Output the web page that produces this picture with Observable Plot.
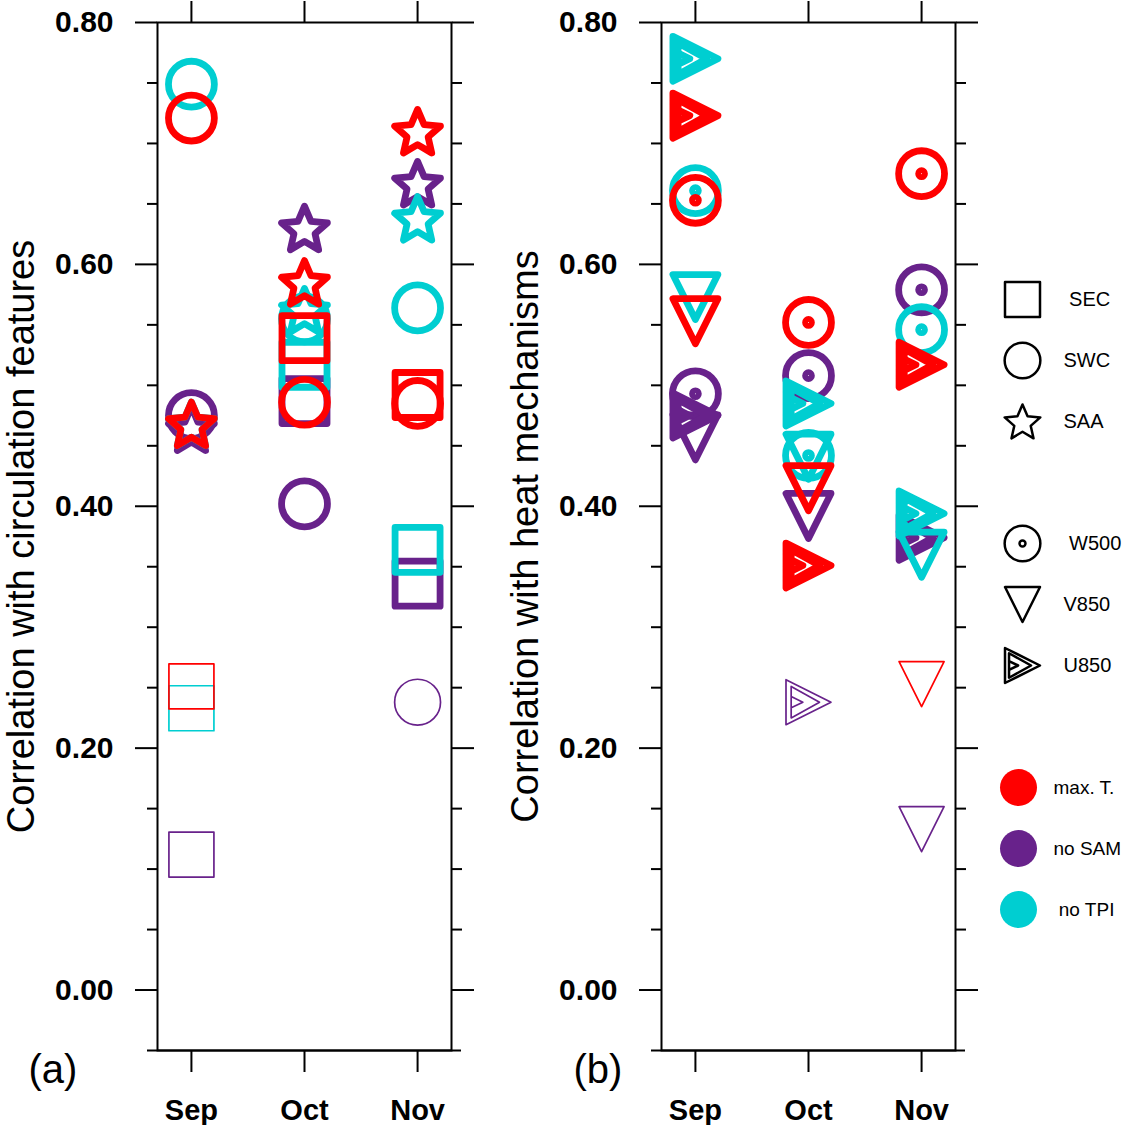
<!DOCTYPE html>
<html><head><meta charset="utf-8">
<script src="https://cdn.jsdelivr.net/npm/d3@7"></script>
<script src="https://cdn.jsdelivr.net/npm/@observablehq/plot@0.6"></script>
<style>
html,body{margin:0;padding:0;background:#fff;}
#fig{position:relative;width:1125px;height:1125px;overflow:hidden;}
.pnl{position:absolute;top:0;}
.pnl svg{background:transparent;}
</style></head><body><div id="fig"></div>
<script>
// ---------- categories ----------
const months = ["Sep", "Oct", "Nov"];
const groups = ["max. T.", "no SAM", "no TPI"];
const groupColors = ["#ff0000", "#68228b", "#00ced1"];
const drawOrder = ["no SAM", "no TPI", "max. T."];
const circShapes = ["SEC", "SWC", "SAA"];
const heatShapes = ["W500", "V850", "U850"];

// ---------- panel (a): correlation with circulation features (Sep, Oct, Nov) ----------
const aSEC_maxT  = [0.251, 0.539, 0.492];
const aSEC_noSAM = [0.112, 0.487, 0.336];
const aSEC_noTPI = [0.233, 0.517, 0.364];
const aSWC_maxT  = [0.721, 0.486, 0.485];
const aSWC_noSAM = [0.475, 0.402, 0.238];
const aSWC_noTPI = [0.749, 0.555, 0.564];
const aSAA_maxT  = [0.468, 0.585, 0.710];
const aSAA_noSAM = [0.464, 0.630, 0.667];
const aSAA_noTPI = [0.468, 0.562, 0.638];
// markers drawn thin (not significant): [shape, group, month]
const aThin = [["SEC", "max. T.", "Sep"], ["SEC", "no SAM", "Sep"], ["SEC", "no TPI", "Sep"], ["SWC", "no SAM", "Nov"]];

// ---------- panel (b): correlation with heat mechanisms (Sep, Oct, Nov) ----------
const bW500_maxT  = [0.653, 0.552, 0.675];
const bW500_noSAM = [0.493, 0.508, 0.579];
const bW500_noTPI = [0.661, 0.442, 0.546];
const bV850_maxT  = [0.553, 0.415, 0.253];
const bV850_noSAM = [0.457, 0.392, 0.133];
const bV850_noTPI = [0.573, 0.441, 0.360];
const bU850_maxT  = [0.723, 0.351, 0.517];
const bU850_noSAM = [0.475, 0.238, 0.374];
const bU850_noTPI = [0.770, 0.485, 0.394];
const bThin = [["U850", "no SAM", "Oct"], ["V850", "max. T.", "Nov"], ["V850", "no SAM", "Nov"]];

// ---------- ticks / texts ----------
const yMajor = [0, 0.2, 0.4, 0.6, 0.8];
const yMinor = [0.05, 0.1, 0.15, 0.25, 0.3, 0.35, 0.45, 0.5, 0.55, 0.65, 0.7, 0.75];
const monthTicks = [1, 2, 3];
const titleA = "Correlation with circulation features";
const titleB = "Correlation with heat mechanisms";
const legendKeys = ["SEC", "SWC", "SAA", "gap1", "W500", "V850", "U850", "gap2", "max. T.", "no SAM", "no TPI"];
const shapeLabelText = [" SEC", "SWC", "SAA", " W500", "V850", "U850"];
const groupLabelText = ["max. T.", "no SAM", " no TPI"];

// ---------- custom marker symbols ----------
const rOf = size => Math.sqrt(size / Math.PI);
const symSquare = {draw(c, s) { const r = rOf(s); c.moveTo(-r, -r); c.lineTo(r, -r); c.lineTo(r, r); c.lineTo(-r, r); c.closePath(); }};
const symCircle = {draw(c, s) { const r = rOf(s) * 1.02; c.moveTo(r, 0); c.arc(0, 0, r, 0, 2 * Math.PI); c.closePath(); }};
const symStar = {draw(c, s) {
  const R = rOf(s) * 1.07, ri = R * 0.46;
  for (let i = 0; i < 10; i++) {
    const a = -Math.PI / 2 + i * Math.PI / 5, rr = i % 2 ? ri : R;
    const x = rr * Math.cos(a), y = rr * Math.sin(a) + R * 0.09;
    i ? c.lineTo(x, y) : c.moveTo(x, y);
  }
  c.closePath();
}};
const makeDot = f => ({draw(c, s) { const r = rOf(s) * 1.02, d = rOf(s) * f; c.moveTo(r, 0); c.arc(0, 0, r, 0, 2 * Math.PI); c.closePath(); c.moveTo(d, 0); c.arc(0, 0, d, 0, 2 * Math.PI); c.closePath(); }});
const symDown = {draw(c, s) { const r = rOf(s); c.moveTo(-r, -r); c.lineTo(r, -r); c.lineTo(0, r); c.closePath(); }};
const symRight = {draw(c, s) {
  const r = rOf(s);
  c.moveTo(-r, -r); c.lineTo(r, 0); c.lineTo(-r, r); c.closePath();
  c.moveTo(-0.77 * r, -0.70 * r); c.lineTo(0.49 * r, 0); c.lineTo(-0.77 * r, 0.70 * r); c.closePath();
  c.moveTo(-0.77 * r, -0.25 * r); c.lineTo(-0.25 * r, 0); c.lineTo(-0.77 * r, 0.25 * r);
}};
const symbols = {SEC: symSquare, SWC: symCircle, SAA: symStar, W500: makeDot(0.13), V850: symDown, U850: symRight};
const legendSymbols = Object.assign({}, symbols, {W500: makeDot(0.17)});

const colorOf = g => groupColors[groups.indexOf(g)];
const FONT = "'Liberation Sans', Arial, Helvetica, sans-serif";

function buildRows(table, thin) {
  const rows = [];
  for (const shape in table) for (const g in table[shape]) table[shape][g].forEach((v, i) => {
    const isThin = thin.some(t => t[0] === shape && t[1] === g && t[2] === months[i]);
    rows.push({shape, group: g, m: i + 1, v, w: isThin ? 1.7 : 6.8});
  });
  return rows;
}

const rowsA = buildRows({
  SEC: {"max. T.": aSEC_maxT, "no SAM": aSEC_noSAM, "no TPI": aSEC_noTPI},
  SWC: {"max. T.": aSWC_maxT, "no SAM": aSWC_noSAM, "no TPI": aSWC_noTPI},
  SAA: {"max. T.": aSAA_maxT, "no SAM": aSAA_noSAM, "no TPI": aSAA_noTPI}
}, aThin);
const rowsB = buildRows({
  W500: {"max. T.": bW500_maxT, "no SAM": bW500_noSAM, "no TPI": bW500_noTPI},
  V850: {"max. T.": bV850_maxT, "no SAM": bV850_noSAM, "no TPI": bV850_noTPI},
  U850: {"max. T.": bU850_maxT, "no SAM": bU850_noSAM, "no TPI": bU850_noTPI}
}, bThin);

function panel(rows, shapes, title, tag, tagDx, width) {
  const marks = [
    Plot.frame({strokeWidth: 2}),
    Plot.ruleY([-0.05], {strokeWidth: 2, insetLeft: -10, insetRight: -10}),
    Plot.axisY(yMajor, {anchor: "left", tickSize: 22, tickPadding: 22, tickFormat: d3.format(".2f"), fontSize: 30, fontWeight: "bold", strokeWidth: 2, label: null}),
    Plot.axisY(yMinor, {anchor: "left", tickSize: 10, tickFormat: () => "", strokeWidth: 2, label: null}),
    Plot.axisY(yMajor, {anchor: "right", tickSize: 22, tickFormat: () => "", strokeWidth: 2, label: null}),
    Plot.axisY(yMinor, {anchor: "right", tickSize: 10, tickFormat: () => "", strokeWidth: 2, label: null}),
    Plot.axisX(monthTicks, {anchor: "bottom", tickSize: 22, tickPadding: 27, tickFormat: d => months[d - 1], fontSize: 29, fontWeight: "bold", strokeWidth: 2, label: null}),
    Plot.axisX(monthTicks, {anchor: "top", tickSize: 22, tickFormat: () => "", strokeWidth: 2, label: null})
  ];
  for (const g of drawOrder) for (const s of shapes) {
    marks.push(Plot.dot(rows.filter(d => d.group === g && d.shape === s), {
      x: "m", y: "v", r: 22.5, symbol: symbols[s], stroke: colorOf(g), fill: "none",
      strokeWidth: "w", strokeLinejoin: "round", strokeLinecap: "round"
    }));
  }
  marks.push(Plot.text([title], {text: d => d, frameAnchor: "left", textAnchor: "middle", rotate: -90, dx: -136, fontSize: 38}));
  marks.push(Plot.text([tag], {text: d => d, frameAnchor: "bottom-left", textAnchor: "start", lineAnchor: "bottom", dx: tagDx, dy: 32, fontSize: 40}));
  return Plot.plot({
    width, height: 1125,
    marginLeft: 157, marginRight: width - 157 - 294, marginTop: 22, marginBottom: 75,
    x: {domain: [0.7, 3.3], axis: null},
    y: {domain: [-0.05, 0.8], axis: null},
    style: {fontFamily: FONT, background: "transparent", color: "black"},
    marks
  });
}

function legend() {
  const shapeKeys = circShapes.concat(heatShapes);
  const marks = [];
  shapeKeys.forEach(k => {
    marks.push(Plot.dot([k], {y: d => d, frameAnchor: "left", dx: 32, r: 17.5, symbol: legendSymbols[k], stroke: "black", fill: "none", strokeWidth: 2.5, strokeLinejoin: "round"}));
  });
  marks.push(Plot.text(shapeKeys, {y: d => d, text: (d, i) => shapeLabelText[i], frameAnchor: "left", textAnchor: "start", dx: 73, fontSize: 20}));
  marks.push(Plot.dot(groups, {y: d => d, frameAnchor: "left", dx: 28, r: 18.5, fill: d => colorOf(d), stroke: "none"}));
  marks.push(Plot.text(groups, {y: d => d, text: (d, i) => groupLabelText[i], frameAnchor: "left", textAnchor: "start", dx: 63, fontSize: 19}));
  return Plot.plot({
    width: 135, height: 1125,
    marginLeft: 0, marginRight: 0, marginTop: 298, marginBottom: 215,
    y: {type: "point", domain: legendKeys, padding: 0, axis: null},
    style: {fontFamily: FONT, background: "transparent", color: "black"},
    marks
  });
}

const fig = document.getElementById("fig");
function place(node, left, width) {
  const d = document.createElement("div");
  d.className = "pnl"; d.style.left = left + "px"; d.style.width = width + "px";
  d.appendChild(node); fig.appendChild(d);
}
place(panel(rowsA, circShapes, titleA, "(a)", -129, 504), 0, 504);
place(panel(rowsB, heatShapes, titleB, "(b)", -88, 486), 504, 486);
place(legend(), 990, 135);
</script></body></html>
